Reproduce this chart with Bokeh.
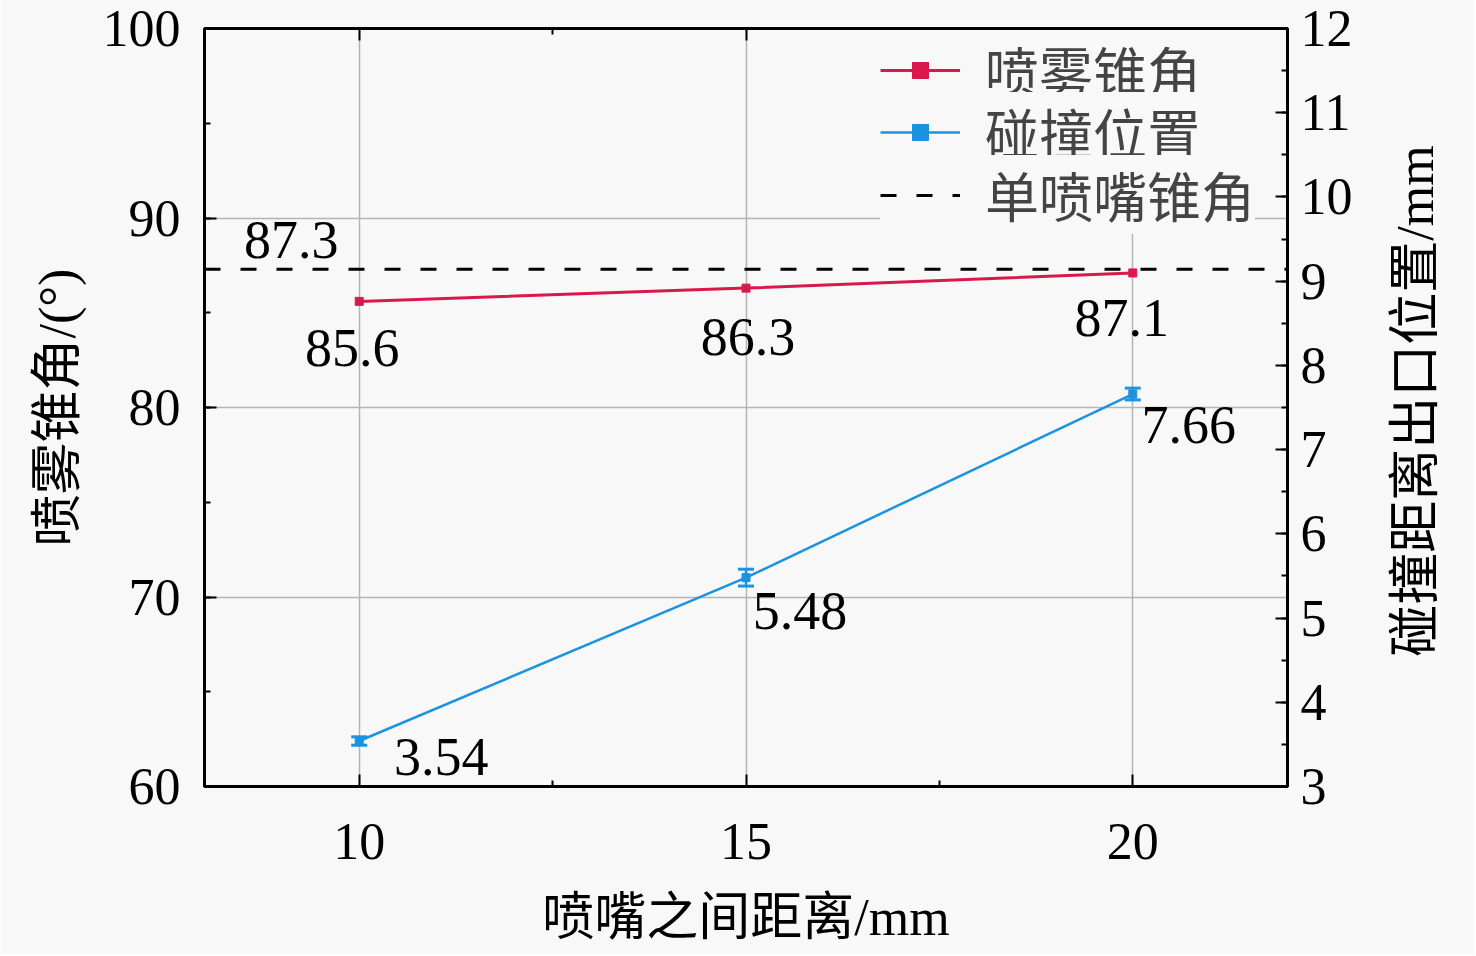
from bokeh.plotting import figure
from bokeh.models import (Range1d, LinearAxis, FixedTicker, SingleIntervalTicker,
                          Whisker, ColumnDataSource, Legend, LegendItem, TeeHead, Div)
from bokeh.layouts import row
from bokeh.core.properties import value
from bokeh.embed import file_html
from bokeh.resources import INLINE

# ---------------- data ----------------
distance = [10, 15, 20]                 # 喷嘴之间距离 / mm
spray_angle = [85.6, 86.3, 87.1]        # 喷雾锥角 / (°)
collision_pos = [3.54, 5.48, 7.66]      # 碰撞距离出口位置 / mm
collision_err = [0.05, 0.10, 0.07]
single_angle = 87.3                     # 单喷嘴锥角
spray_labels = ["85.6", "86.3", "87.1"]
collision_labels = ["3.54", "5.48", "7.66"]
single_label = "87.3"
legend_labels = ["喷雾锥角", "碰撞位置", "单喷嘴锥角"]
x_title = "喷嘴之间距离/mm"
y_title = "喷雾锥角/(°)"
y2_title = "碰撞距离出口位置/mm"
x_ticks = [10, 15, 20]
x_minor_ticks = [12.5, 17.5]
X_RANGE = (8, 22)
Y_LEFT = (60, 100)
Y_RIGHT = (3, 12)

# ---------------- style ----------------
FONT = "'Liberation Serif', 'Noto Sans CJK SC'"
BG = "#f8f8f8"
RED = "#d9194c"
BLUE = "#1b93e0"
GRID = "#b4b4b4"

p = figure(width=1380, height=954, output_backend="svg", toolbar_location=None,
           x_range=Range1d(*X_RANGE), y_range=Range1d(*Y_LEFT),
           min_border_left=204, min_border_right=93, min_border_top=28, min_border_bottom=168,
           background_fill_color=BG, border_fill_color=BG, margin=0)
p.outline_line_color = "black"
p.outline_line_width = 3

p.extra_y_ranges = {"right": Range1d(*Y_RIGHT)}

xticker = FixedTicker(ticks=x_ticks, minor_ticks=x_minor_ticks)
yticker = SingleIntervalTicker(interval=10, num_minor_ticks=2)
rticker = SingleIntervalTicker(interval=1, num_minor_ticks=2)

def style_axis(ax, standoff, label_standoff=0):
    ax.axis_line_color = "black"
    ax.axis_line_width = 3
    ax.major_tick_in = 12
    ax.major_tick_out = 0
    ax.minor_tick_in = 6
    ax.minor_tick_out = 0
    ax.major_tick_line_width = 2
    ax.minor_tick_line_width = 2
    ax.major_tick_line_color = "black"
    ax.minor_tick_line_color = "black"
    ax.major_label_text_font = FONT
    ax.major_label_text_font_size = "52px"
    ax.major_label_text_color = "black"
    ax.major_label_standoff = standoff
    ax.axis_label_text_font = FONT
    ax.axis_label_text_font_size = "52px"
    ax.axis_label_text_font_style = "normal"
    ax.axis_label_text_color = "black"
    ax.axis_label_standoff = label_standoff

xa = p.xaxis[0]
xa.ticker = xticker
xa.axis_label = x_title
style_axis(xa, 37, 27)

ya = p.yaxis[0]
ya.ticker = yticker
ya.axis_label = y_title
style_axis(ya, 24, 14)

ra = LinearAxis(y_range_name="right", ticker=rticker)
style_axis(ra, 13)
p.add_layout(ra, "right")

ta = LinearAxis(ticker=xticker)
style_axis(ta, 0)
ta.major_label_overrides = {t: "" for t in x_ticks}
p.add_layout(ta, "above")

p.xgrid.ticker = xticker
p.ygrid.ticker = yticker
for g in (p.xgrid[0], p.ygrid[0]):
    g.grid_line_color = GRID
    g.grid_line_width = 1.5

# single nozzle dashed line
dash_r = p.line(x=list(X_RANGE), y=[single_angle, single_angle],
                line_color="black", line_width=3, line_dash="16 20")

# spray angle (left axis)
src_l = ColumnDataSource(dict(x=distance, y=spray_angle, t=spray_labels,
                              dx=[-7, 2, -11], dy=[47, 49, 45]))
red_line = p.line("x", "y", source=src_l, line_color=RED, line_width=3)
red_mk = p.scatter("x", "y", source=src_l, marker="square", size=8,
                   fill_color=RED, line_color=RED)

# collision position (right axis)
src_r = ColumnDataSource(dict(x=distance, y=collision_pos, t=collision_labels,
                              lo=[v - e for v, e in zip(collision_pos, collision_err)],
                              hi=[v + e for v, e in zip(collision_pos, collision_err)],
                              dx=[82, 54, 56], dy=[16, 33, 31]))
blue_line = p.line("x", "y", source=src_r, y_range_name="right",
                   line_color=BLUE, line_width=2.5)
blue_mk = p.scatter("x", "y", source=src_r, y_range_name="right", marker="square",
                    size=8, fill_color=BLUE, line_color=BLUE)
wh = Whisker(base="x", lower="lo", upper="hi", source=src_r, y_range_name="right",
             line_color=BLUE, line_width=2.5,
             upper_head=TeeHead(size=16, line_color=BLUE, line_width=3),
             lower_head=TeeHead(size=16, line_color=BLUE, line_width=3))
p.add_layout(wh)

# value labels
p.text("x", "y", text="t", source=src_l, x_offset="dx", y_offset="dy",
       text_align="center", text_baseline="middle", text_font=value(FONT),
       text_font_size="54px", text_color="black")
p.text("x", "y", text="t", source=src_r, y_range_name="right", x_offset="dx", y_offset="dy",
       text_align="center", text_baseline="middle", text_font=value(FONT),
       text_font_size="54px", text_color="black")
p.text(x=[distance[0]], y=[single_angle], text=[single_label], x_offset=-68, y_offset=-29,
       text_align="center", text_baseline="middle", text_font=value(FONT),
       text_font_size="54px", text_color="black")

# legend: one box per row so the rows can sit closer together
legend_rows = [
    (legend_labels[0], [red_line, red_mk], 677),
    (legend_labels[1], [blue_line, blue_mk], 615),
    (legend_labels[2], [dash_r], 552),
]
for lab, rends, ly in legend_rows:
    lg = Legend(items=[LegendItem(label=lab, renderers=rends)],
                location=(676, ly), label_text_font=FONT, label_text_font_size="54px",
                glyph_width=80, glyph_height=40, label_standoff=25,
                spacing=0, padding=0, margin=0,
                border_line_color=None, background_fill_color=BG, background_fill_alpha=1.0)
    p.add_layout(lg)

# right-hand axis title, reading bottom-to-top
title_div = Div(
    text=("<div style=\"position:absolute; left:36px; top:401px; white-space:nowrap; "
          "transform:translate(-50%,-50%) rotate(-90deg); "
          "font-family:'Liberation Serif','Noto Sans CJK SC'; font-size:52px; "
          "line-height:1.2; color:black;\">" + y2_title + "</div>"),
    width=94, height=954, margin=0,
    styles={"background-color": BG, "position": "relative", "overflow": "visible"})

layout = row(p, title_div, spacing=0)

open("out.html", "w").write(file_html(layout, INLINE))
